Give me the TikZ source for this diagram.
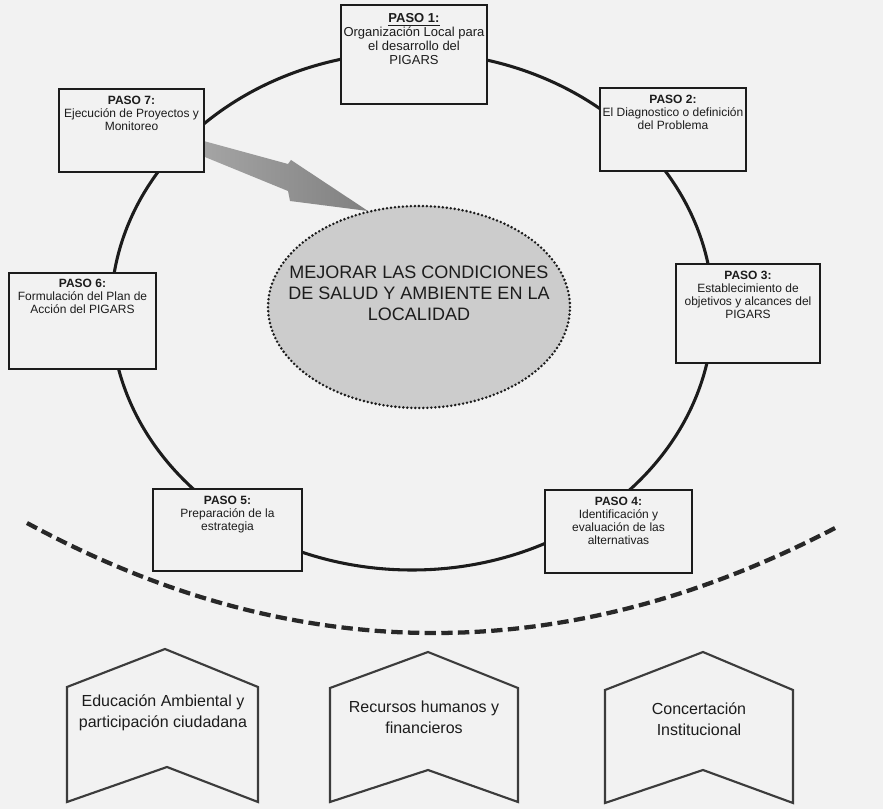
\documentclass[tikz,border=0pt]{standalone}
\usepackage{fontspec}
\setmainfont{Liberation Sans}
\usetikzlibrary{shapes.geometric}
\definecolor{bg}{RGB}{242,242,242}
\definecolor{ink}{RGB}{28,28,28}
\definecolor{goalfill}{RGB}{204,204,204}
\definecolor{arrowlight}{RGB}{165,165,165}
\definecolor{arrowdark}{RGB}{128,128,128}
\definecolor{pline}{RGB}{60,60,60}
\definecolor{dashink}{RGB}{40,40,40}
\begin{document}
\begin{tikzpicture}[x=0.75pt,y=-0.75pt,
  stepbox/.style={draw=ink, line width=2.2pt, fill=bg, inner sep=0pt},
  steptext/.style={anchor=north, align=center, font=\fontsize{9}{9.75}\selectfont, text=ink, inner sep=0pt},
  ring/.style={draw=ink, line width=2.3pt},
  goalshape/.style={ellipse, fill=goalfill, draw=ink, line width=2.1pt, dash pattern=on 0pt off 3pt, line cap=round, inner sep=0pt, minimum width=226.5pt, minimum height=151.5pt},
  goaltext/.style={align=center, font=\fontsize{13.5}{15.75}\selectfont, text=ink, inner sep=0pt},
  arcdash/.style={draw=dashink, line width=3.2pt, dash pattern=on 8.5pt off 4pt},
  pillar/.style={draw=pline, line width=1.6pt, fill=bg, line join=miter},
  pillartext/.style={align=center, font=\fontsize{12}{15.75}\selectfont, text=ink, inner sep=0pt}
]
\useasboundingbox (0,0) rectangle (883,809);
\fill[bg] (0,0) rectangle (883,809);

% ring connecting the steps
\coordinate (ringc) at (412,311);
\draw[ring] (ringc) ellipse [x radius=301, y radius=259];

% dashed arc
\coordinate (arcL) at (27,523);
\coordinate (arcR) at (837,527);
\draw[arcdash] (arcL) .. controls (294,668) and (564,670) .. (arcR);

% big arrow
\coordinate (arrowtip) at (368,211);
\shade[left color=arrowlight, right color=arrowdark] (200,140) -- (288,164) -- (291,160) -- (arrowtip) -- (290,201) -- (288,191) -- (200,155) -- cycle;

% goal
\node[goalshape] (goal) at (419,307) {};
\node[goaltext] (goalt) at (419,293) {MEJORAR LAS CONDICIONES\\DE SALUD Y AMBIENTE EN LA\\LOCALIDAD};

% step boxes
\node[stepbox, minimum width=109.5pt, minimum height=74.25pt] (p1) at (414,54.5) {};
\node[stepbox, minimum width=109.5pt, minimum height=62.25pt] (p2) at (673,129.5) {};
\node[stepbox, minimum width=108pt, minimum height=74.25pt] (p3) at (748,313.5) {};
\node[stepbox, minimum width=110.25pt, minimum height=62.25pt] (p4) at (618.5,531.5) {};
\node[stepbox, minimum width=111.75pt, minimum height=61.5pt] (p5) at (227.5,530) {};
\node[stepbox, minimum width=110.25pt, minimum height=72pt] (p6) at (82.5,321) {};
\node[stepbox, minimum width=108.75pt, minimum height=62.25pt] (p7) at (131.5,130.5) {};

\node[steptext, font=\fontsize{9.75}{10.5}\selectfont] (p1t) at ([yshift=-7.5pt]p1.north) {\underline{\textbf{PASO 1:}}\\Organización Local para\\el desarrollo del\\PIGARS};
\node[steptext] (p2t) at ([yshift=-6pt]p2.north) {\textbf{PASO 2:}\\El Diagnostico o definición\\del Problema};
\node[steptext] (p3t) at ([yshift=-6pt]p3.north) {\textbf{PASO 3:}\\Establecimiento de\\objetivos y alcances del\\PIGARS};
\node[steptext] (p4t) at ([yshift=-6pt]p4.north) {\textbf{PASO 4:}\\Identificación y\\evaluación de las\\alternativas};
\node[steptext] (p5t) at ([yshift=-6pt]p5.north) {\textbf{PASO 5:}\\Preparación de la\\estrategia};
\node[steptext] (p6t) at ([yshift=-5.5pt]p6.north) {\textbf{PASO 6:}\\Formulación del Plan de\\Acción del PIGARS};
\node[steptext] (p7t) at ([yshift=-6pt]p7.north) {\textbf{PASO 7:}\\Ejecución de Proyectos y\\Monitoreo};

% pillars
\draw[pillar] (67,687) -- (165,649) -- (258,687) -- (258,802) -- (167,767) -- (67,802) -- cycle;
\draw[pillar] (330,688) -- (428,652) -- (518,688) -- (518,802) -- (428,770) -- (330,802) -- cycle;
\draw[pillar] (605,690) -- (703,652) -- (793,690) -- (793,803) -- (703,770) -- (605,803) -- cycle;
\node[pillartext] (e1) at (163,713) {Educación Ambiental y\\participación ciudadana};
\node[pillartext] (e2) at (424,717) {Recursos humanos y\\financieros};
\node[pillartext] (e3) at (699,719) {Concertación\\Institucional};
\end{tikzpicture}
\end{document}
